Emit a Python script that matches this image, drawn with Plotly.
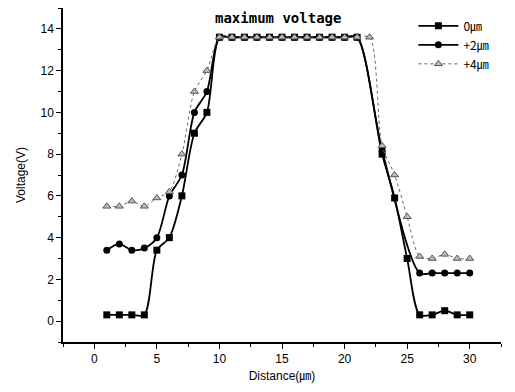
import plotly.graph_objects as go

# Distance (µm) and voltage (V) per series
x_0um = [1, 2, 3, 4, 5, 6, 7, 8, 9, 10, 11, 12, 13, 14, 15, 16, 17, 18, 19, 20, 21, 23, 24, 25, 26, 27, 28, 29, 30]
v_0um = [0.3, 0.3, 0.3, 0.3, 3.4, 4.0, 6.0, 9.0, 10.0, 13.6, 13.6, 13.6, 13.6, 13.6, 13.6, 13.6, 13.6, 13.6, 13.6, 13.6, 13.6,
         8.0, 5.9, 3.0, 0.3, 0.3, 0.5, 0.3, 0.3]

x_2um = [1, 2, 3, 4, 5, 6, 7, 8, 9, 10, 11, 12, 13, 14, 15, 16, 17, 18, 19, 20, 21, 23, 26, 27, 28, 29, 30]
v_2um = [3.4, 3.7, 3.4, 3.5, 4.0, 6.0, 7.0, 10.0, 11.0, 13.6, 13.6, 13.6, 13.6, 13.6, 13.6, 13.6, 13.6, 13.6, 13.6, 13.6, 13.6,
         8.2, 2.3, 2.3, 2.3, 2.3, 2.3]

x_4um = [1, 2, 3, 4, 5, 6, 7, 8, 9, 10, 11, 12, 13, 14, 15, 16, 17, 18, 19, 20, 21, 22, 23, 24, 25, 26, 27, 28, 29, 30]
v_4um = [5.5, 5.5, 5.75, 5.5, 5.9, 6.2, 8.0, 11.0, 12.0, 13.6, 13.6, 13.6, 13.6, 13.6, 13.6, 13.6, 13.6, 13.6, 13.6, 13.6, 13.6, 13.6,
         8.4, 7.0, 5.0, 3.1, 3.0, 3.2, 3.0, 3.0]

series_names = ["0㎛", "+2㎛", "+4㎛"]

fig = go.Figure()
fig.add_trace(go.Scatter(
    x=x_0um, y=v_0um, name=series_names[0], mode="lines+markers",
    line=dict(color="black", width=1.8, shape="spline", smoothing=0.8),
    marker=dict(symbol="square", size=7, color="black"),
))
fig.add_trace(go.Scatter(
    x=x_2um, y=v_2um, name=series_names[1], mode="lines+markers",
    line=dict(color="black", width=1.8, shape="spline", smoothing=0.8),
    marker=dict(symbol="circle", size=7, color="black"),
))
fig.add_trace(go.Scatter(
    x=x_4um, y=v_4um, name=series_names[2], mode="lines+markers",
    line=dict(color="#666666", width=1, dash="dot", shape="spline", smoothing=0.8),
    marker=dict(symbol="triangle-up", size=7, color="#bbbbbb", line=dict(color="#555555", width=1)),
))

font_main = "Liberation Sans, Arial, sans-serif"

# page body has an 8px margin, so the figure is sized/offset to compensate
fig.update_layout(
    width=507, height=384,
    margin=dict(l=55, r=14, t=0, b=50),
    paper_bgcolor="white", plot_bgcolor="white",
    font=dict(family=font_main, size=12, color="black"),
    showlegend=True,
    legend=dict(
        x=0.80, y=0.99, xanchor="left", yanchor="top",
        bgcolor="rgba(0,0,0,0)", font=dict(size=12, family="Noto Sans CJK KR, " + font_main),
        itemwidth=40, tracegroupgap=0,
    ),
    annotations=[dict(
        text="<b>maximum voltage</b>", xref="paper", yref="paper",
        x=0.49, y=1.0, xanchor="center", yanchor="top", showarrow=False,
        font=dict(family="DejaVu Sans Mono", size=14, color="black"),
    )],
)

fig.update_xaxes(
    range=[-2.5, 32.5], dtick=5, tick0=0,
    showgrid=False, zeroline=False,
    showline=True, linecolor="black", linewidth=1.5,
    ticks="outside", ticklen=5, tickwidth=1.2, tickcolor="black",
    minor=dict(dtick=2.5, tick0=0, ticks="outside", ticklen=3, tickwidth=1, tickcolor="black"),
    tickfont=dict(size=12),
    title=dict(text="Distance(㎛)", font=dict(size=12, family="Liberation Sans, Noto Sans CJK KR"), standoff=6),
)
fig.update_yaxes(
    range=[-1, 15], dtick=2, tick0=0,
    showgrid=False, zeroline=False,
    showline=True, linecolor="black", linewidth=1.5,
    ticks="outside", ticklen=5, tickwidth=1.2, tickcolor="black",
    minor=dict(dtick=1, tick0=0, ticks="outside", ticklen=3, tickwidth=1, tickcolor="black"),
    tickfont=dict(size=12),
    title=dict(text="Voltage(V)", font=dict(size=12), standoff=12),
)

fig.write_html("out.html")
